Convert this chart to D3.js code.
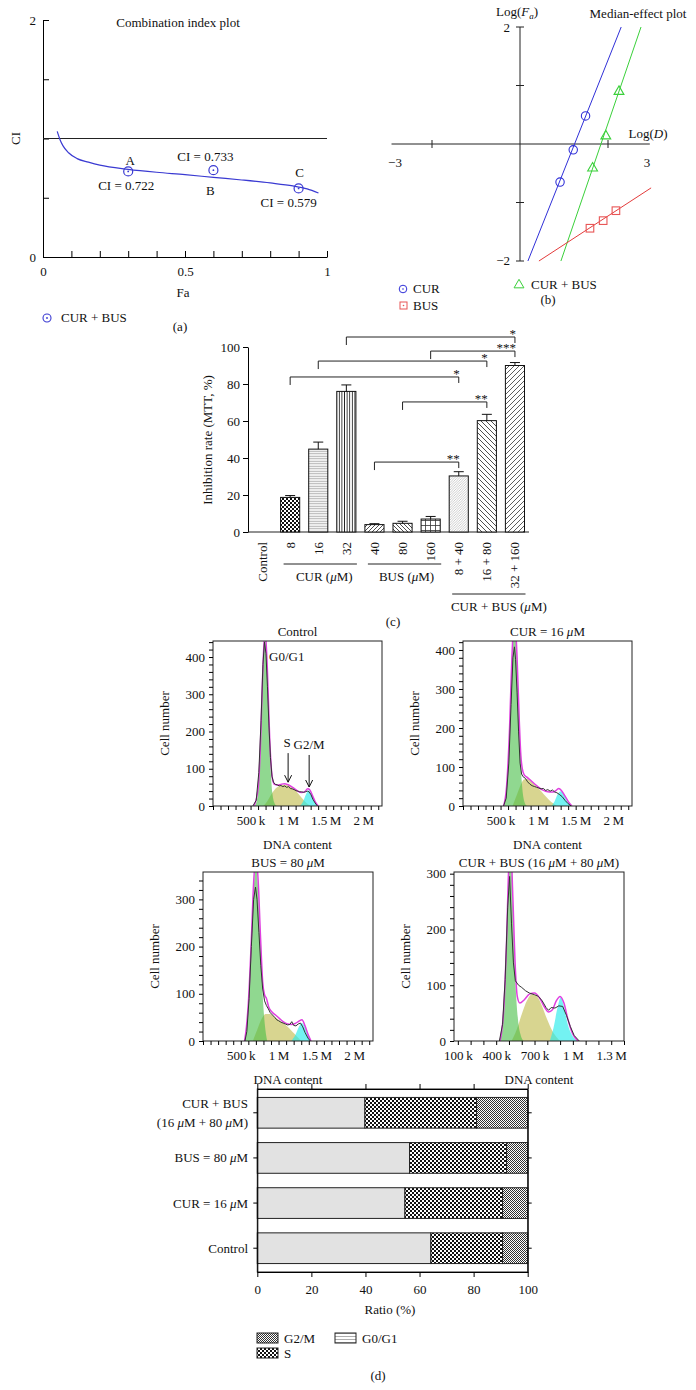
<!DOCTYPE html>
<html><head><meta charset="utf-8">
<script src="https://cdn.jsdelivr.net/npm/d3@7/dist/d3.min.js"></script>
<style>
body{margin:0;background:#fff;}
svg{display:block;}
text{font-family:"Liberation Serif","Times New Roman",serif;fill:#111;}
</style></head><body>
<svg id="fig" width="696" height="1390"></svg>
<script>
// ================= DATA =================
// (a) Combination index plot
const ciCurveFa = [0.05,0.06,0.07,0.09,0.12,0.16,0.2,0.3,0.4,0.5,0.6,0.7,0.8,0.88,0.93,0.97];
const ciCurveCI = [1.06,0.99,0.94,0.88,0.83,0.8,0.775,0.74,0.715,0.695,0.672,0.65,0.625,0.6,0.575,0.54];
const ciPointFa = [0.3, 0.6, 0.9];
const ciPointCI = [0.722, 0.733, 0.579];
const ciPointName = ["A", "B", "C"];
const ciYTicks = [0, 0.5, 1, 1.5, 2];
const ciYLabels = [0, 2];
const ciXTicks = [0,0.1,0.2,0.3,0.4,0.5,0.6,0.7,0.8,0.9,1];
const ciXLabels = [0, 0.5, 1];

// (b) Median-effect plot (log D, log Fa)
const curLogD = [0.91, 1.21, 1.49];
const curLogFa = [-0.65, -0.1, 0.48];
const busLogD = [1.59, 1.89, 2.18];
const busLogFa = [-1.44, -1.31, -1.14];
const comboLogD = [1.65, 1.95, 2.25];
const comboLogFa = [-0.4, 0.15, 0.91];
const curFitLine = [[0.18, -2], [2.3, 2]];
const busFitLine = [[0.43, -2], [2.98, -0.75]];
const comboFitLine = [[0.93, -2], [2.75, 2]];
const medYTicks = [-2, -1, 1, 2];
const medXTicks = [-2, 2];

// (c) MTT inhibition
const mttCategories = ["Control","8","16","32","40","80","160","8 + 40","16 + 80","32 + 160"];
const mttValues = [0, 18.7, 44.8, 76, 4, 4.7, 7, 30.3, 60.2, 90];
const mttErrors = [0, 1, 3.8, 3.5, 0.5, 1.1, 1.4, 2.3, 3.4, 1.6];
const mttYTicks = [0, 20, 40, 60, 80, 100];
const mttGroups = [["CUR (μM)", "8", "32"], ["BUS (μM)", "40", "160"], ["CUR + BUS (μM)", "8 + 40", "32 + 160"]];
// brackets: [from, to, level (%), label]
const mttBrackets = [
  ["32", "32 + 160", 105.4, "*"],
  ["160", "32 + 160", 97.8, "***"],
  ["16", "16 + 80", 92.4, "*"],
  ["8", "8 + 40", 83.8, "*"],
  ["80", "16 + 80", 70.3, "**"],
  ["40", "8 + 40", 37.8, "**"]
];

// (d) Flow cytometry histograms  [DNA content (k), cell number]
const ctrlG1 = [[545,0],[575,8],[600,40],[630,150],[660,340],[693,470],[725,350],[755,160],[790,35],[825,5],[850,0]];
const ctrlS = [[670,0],[720,12],[780,32],[840,48],[900,55],[950,57],[1000,55],[1060,48],[1120,37],[1180,22],[1240,9],[1300,0]];
const ctrlG2 = [[1160,0],[1200,12],[1240,32],[1275,42],[1310,32],[1350,10],[1390,0]];
const ctrlFit = [[545,0],[600,45],[630,155],[660,345],[693,475],[725,360],[755,180],[790,75],[820,58],[860,56],[900,58],[950,60],[1000,57],[1060,50],[1120,41],[1180,36],[1220,38],[1260,46],[1290,43],[1320,30],[1360,12],[1400,0]];
const ctrlRaw = [[530,0],[575,15],[610,90],[640,230],[665,380],[685,440],[705,410],[725,320],[745,215],[765,130],[785,80],[805,64],[830,58],[855,57],[880,54],[905,55],[930,52],[955,54],[980,50],[1005,52],[1030,47],[1055,46],[1080,44],[1105,41],[1130,40],[1155,38],[1180,38],[1205,37],[1230,38],[1255,40],[1280,38],[1305,30],[1330,18],[1360,8],[1390,0]];

const curG1 = [[540,0],[560,8],[580,44],[600,100],[620,192],[650,368],[685,480],[720,368],[750,192],[770,100],[790,44],[820,9],[850,0]];
const curS = [[660,0],[720,30],[770,55],[810,68],[850,70],[900,64],[950,56],[1000,46],[1050,36],[1100,25],[1150,15],[1200,7],[1250,0]];
const curG2 = [[1180,0],[1220,12],[1260,30],[1300,38],[1340,30],[1380,15],[1420,4],[1450,0]];
const curFit = [[540,0],[580,50],[620,200],[650,375],[685,490],[720,380],[750,215],[770,130],[790,95],[815,80],[850,74],[900,66],[950,57],[1000,49],[1050,42],[1100,38],[1150,36],[1200,36],[1240,40],[1275,45],[1310,40],[1350,28],[1400,12],[1450,0]];
const curRaw = [[540,0],[575,20],[610,110],[640,260],[665,380],[685,408],[700,375],[720,290],[740,190],[760,110],[780,82],[800,75],[830,71],[860,62],[890,56],[920,52],[950,50],[980,48],[1010,46],[1040,44],[1070,45],[1100,40],[1130,42],[1160,38],[1190,41],[1220,36],[1250,34],[1280,30],[1320,24],[1360,14],[1400,6],[1440,0]];

const busG1 = [[550,0],[575,25],[600,71],[640,204],[670,319],[700,370],[730,319],[760,204],[800,71],[825,25],[850,0]];
const busS = [[660,0],[720,25],[780,48],[830,57],[880,57],[940,52],[1000,45],[1060,38],[1120,30],[1180,20],[1240,10],[1300,0]];
const busG2 = [[1170,0],[1220,12],[1270,30],[1310,38],[1350,28],[1390,12],[1430,0]];
const busFit = [[550,0],[575,30],[600,80],[640,215],[670,335],[700,390],[730,340],[760,225],[790,125],[815,98],[840,90],[870,72],[910,62],[960,55],[1010,48],[1060,41],[1120,36],[1170,35],[1220,37],[1270,42],[1310,45],[1350,32],[1390,14],[1430,0]];
const busRaw = [[555,0],[580,20],[610,90],[640,200],[670,300],[695,326],[715,300],[740,230],[765,160],[790,110],[815,85],[840,75],[865,68],[890,60],[920,55],[950,50],[975,45],[1000,43],[1030,40],[1060,38],[1090,36],[1120,34],[1150,35],[1175,41],[1200,33],[1230,32],[1260,36],[1290,38],[1320,30],[1350,18],[1390,6],[1420,0]];

const cbG1 = [[425,0],[450,25],[470,100],[490,245],[510,340],[530,250],[550,110],[570,40],[590,12],[615,0]];
const cbS = [[520,0],[560,20],[600,48],[640,72],[680,84],[720,80],[760,62],[800,38],[840,18],[880,5],[900,0]];
const cbG2 = [[820,0],[850,25],[880,60],[905,78],[930,62],[960,30],[1000,8],[1040,0]];
const cbFit = [[430,0],[460,60],[480,170],[500,320],[515,345],[530,260],[550,130],[565,80],[585,68],[620,74],[660,84],[700,86],[740,77],[780,60],[810,52],[840,56],[870,72],[900,80],[930,68],[960,40],[1000,12],[1040,0]];
const cbRaw = [[425,0],[450,30],[470,110],[490,240],[505,295],[520,210],[535,140],[550,108],[575,100],[600,96],[630,90],[660,86],[700,83],[730,80],[760,72],[790,60],[810,55],[830,60],[860,59],[890,63],[920,62],[950,46],[980,26],[1010,10],[1050,0]];

const histTitles = ["Control", "CUR = 16 μM", "BUS = 80 μM", "CUR + BUS (16 μM + 80 μM)"];
const histXTickValsWide = [500, 1000, 1500, 2000];
const histXTickTextWide = ["500\u2009k", "1\u2009M", "1.5\u2009M", "2\u2009M"];
const histXTickValsCombo = [100, 400, 700, 1000, 1300];
const histXTickTextCombo = ["100\u2009k", "400\u2009k", "700\u2009k", "1\u2009M", "1.3\u2009M"];
const histYLabels400 = [0, 100, 200, 300, 400];
const histYLabels300 = [0, 100, 200, 300];
const ctrlArrows = [["S", 1000, 64, 142], ["G2/M", 1280, 51, 137]];

// (d) cell-cycle ratio
const phaseCategories = ["CUR + BUS\n(16 μM + 80 μM)", "BUS = 80 μM", "CUR = 16 μM", "Control"];
const phaseG0G1 = [39.8, 56.3, 54.6, 64.2];
const phaseS = [41.3, 35.9, 36.1, 26.5];
const phaseG2M = [18.9, 7.8, 9.3, 9.3];
const phaseXTicks = [0, 20, 40, 60, 80, 100];

// ================= DRAW =================
const FS = 13;
const svg = d3.select("#fig");
const defs = svg.append("defs");

function rich(t, str) {
  str.split(/(μ)/).forEach(p => {
    if (!p) return;
    const ts = t.append("tspan").text(p);
    if (p === "μ") ts.attr("font-style", "italic");
  });
  return t;
}
function txt(g, x, y, s, anchor = "middle", size = FS) {
  const t = g.append("text").attr("x", x).attr("y", y).attr("text-anchor", anchor).attr("font-size", size);
  return rich(t, s);
}
function pattern(id, w, h, bg, draw) {
  const p = defs.append("pattern").attr("id", id).attr("patternUnits", "userSpaceOnUse").attr("width", w).attr("height", h);
  p.append("rect").attr("width", w).attr("height", h).attr("fill", bg);
  draw(p);
}
pattern("pChecker", 4, 4, "#fff", p => { p.append("rect").attr("width",2).attr("height",2).attr("fill","#111"); p.append("rect").attr("x",2).attr("y",2).attr("width",2).attr("height",2).attr("fill","#111"); });
pattern("pFineChecker", 2, 2, "#fff", p => { p.append("rect").attr("width",1).attr("height",1).attr("fill","#333"); p.append("rect").attr("x",1).attr("y",1).attr("width",1).attr("height",1).attr("fill","#333"); });
pattern("pHLine", 3, 2.5, "#f3f3f3", p => p.append("line").attr("x1",0).attr("x2",3).attr("y1",1.25).attr("y2",1.25).attr("stroke","#888").attr("stroke-width",0.6));
pattern("pHLineD", 3, 2, "#f6f6f6", p => p.append("line").attr("x1",0).attr("x2",3).attr("y1",1).attr("y2",1).attr("stroke","#a8a8a8").attr("stroke-width",0.5));
pattern("pHLineLeg", 3, 3, "#fff", p => p.append("line").attr("x1",0).attr("x2",3).attr("y1",1.5).attr("y2",1.5).attr("stroke","#777").attr("stroke-width",0.6));
pattern("pVLine", 2.6, 3, "#fff", p => p.append("line").attr("y1",0).attr("y2",3).attr("x1",1.3).attr("x2",1.3).attr("stroke","#222").attr("stroke-width",0.9));
function diag(id, s, dir, col, sw) {
  pattern(id, s, s, "#fff", p => {
    const d = dir > 0 ? `M0,${s} L${s},0 M${-s/2},${s/2} L${s/2},${-s/2} M${s/2},${s*1.5} L${s*1.5},${s/2}`
                      : `M0,0 L${s},${s} M${-s/2},${s/2} L${s/2},${s*1.5} M${s/2},${-s/2} L${s*1.5},${s/2}`;
    p.append("path").attr("d", d).attr("stroke", col).attr("stroke-width", sw).attr("fill", "none");
  });
}
diag("pDiagR4", 4, 1, "#222", 0.8);
diag("pDiagL4", 4, -1, "#222", 0.8);
diag("pDiagFine", 2.5, 1, "#999", 0.5);
diag("pDiagL5", 5, -1, "#222", 0.8);
diag("pDiagR5", 5, 1, "#333", 0.8);
pattern("pGrid", 5, 5, "#fff", p => p.append("path").attr("d","M0,0.5 H5 M0.5,0 V5").attr("stroke","#333").attr("stroke-width",0.8));
const mttFills = ["#fff","url(#pChecker)","url(#pHLine)","url(#pVLine)","url(#pDiagR4)","url(#pDiagL4)","url(#pGrid)","url(#pDiagFine)","url(#pDiagL5)","url(#pDiagR5)"];

// ---------- (a) ----------
{
  const blue = "#3a3ad2";
  const xA = d3.scaleLinear([0, 1], [43, 327]);
  const yA = d3.scaleLinear([0, 2], [257, 20]);
  const g = svg.append("g");
  g.append("g").attr("transform", `translate(${xA(0)},0)`).call(d3.axisRight(yA).tickValues(ciYTicks).tickSize(6).tickSizeOuter(0).tickFormat(""));
  g.append("g").attr("transform", `translate(${xA(0)},0)`).attr("font-size", FS).call(d3.axisLeft(yA).tickValues(ciYLabels).tickSize(0).tickPadding(7).tickFormat(d3.format("~g"))).call(s => s.select(".domain").remove());
  g.append("g").attr("transform", `translate(0,${yA(0)})`).call(d3.axisTop(xA).tickValues(ciXTicks).tickSize(6).tickSizeOuter(0).tickFormat(""));
  g.append("g").attr("transform", `translate(0,${yA(0)})`).attr("font-size", FS).call(d3.axisBottom(xA).tickValues(ciXLabels).tickSize(0).tickPadding(10).tickFormat(d3.format("~g"))).call(s => s.select(".domain").remove());
  g.selectAll(".tick text").attr("font-size", FS);
  g.append("line").attr("x1", xA(0)).attr("x2", xA(1)).attr("y1", yA(1)).attr("y2", yA(1)).attr("stroke", "#222");
  const line = d3.line().x(i => xA(ciCurveFa[i])).y(i => yA(ciCurveCI[i])).curve(d3.curveMonotoneX);
  g.append("path").attr("d", line(d3.range(ciCurveFa.length))).attr("fill", "none").attr("stroke", blue).attr("stroke-width", 1.2);
  const pts = g.selectAll(".pt").data(ciPointFa.map((f, i) => ({f, c: ciPointCI[i], n: ciPointName[i]}))).join("g")
    .attr("transform", d => `translate(${xA(d.f)},${yA(d.c)})`);
  pts.append("circle").attr("r", 4.5).attr("fill", "none").attr("stroke", blue).attr("stroke-width", 1.2);
  pts.append("circle").attr("r", 0.9).attr("fill", blue);
  const namePos = [[2, -6], [-3, 25], [1, -11]];
  const ciPos = [[-2, 19], [-8, -9], [-10, 19]];
  pts.each(function(d, i) {
    const s = d3.select(this);
    txt(s, namePos[i][0], namePos[i][1], d.n);
    txt(s, ciPos[i][0], ciPos[i][1], "CI = " + d3.format(".3f")(d.c));
  });
  txt(g, 178, 27, "Combination index plot");
  g.append("text").attr("transform", `translate(20,${yA(1)}) rotate(-90)`).attr("text-anchor", "middle").attr("font-size", FS).text("CI");
  txt(g, 183, 297, "Fa");
  const lg = g.append("g").attr("transform", "translate(47,318)");
  lg.append("circle").attr("r", 4).attr("fill", "none").attr("stroke", blue).attr("stroke-width", 1.1);
  lg.append("circle").attr("r", 0.9).attr("fill", blue);
  txt(lg, 14, 4, "CUR + BUS", "start");
  txt(g, 180, 331, "(a)");
}

// ---------- (b) ----------
{
  const cBlue = "#3030d8", cRed = "#e33b3b", cGreen = "#3ad03a";
  const xB = d3.scaleLinear([-3, 3], [388, 652]);
  const yB = d3.scaleLinear([-2, 2], [261, 27]);
  const g = svg.append("g");
  g.append("line").attr("x1", xB(-2.92)).attr("x2", xB(2.95)).attr("y1", yB(0)).attr("y2", yB(0)).attr("stroke", "#222");
  g.append("line").attr("x1", xB(0)).attr("x2", xB(0)).attr("y1", yB(-2)).attr("y2", yB(2)).attr("stroke", "#222");
  g.selectAll(".yt").data(medYTicks).join("line").attr("x1", xB(0) - 4).attr("x2", xB(0) + 4).attr("y1", d => yB(d)).attr("y2", d => yB(d)).attr("stroke", "#222");
  g.selectAll(".xt").data(medXTicks).join("line").attr("y1", yB(0) - 4).attr("y2", yB(0) + 4).attr("x1", d => xB(d)).attr("x2", d => xB(d)).attr("stroke", "#222");
  txt(g, xB(-3) + 7, yB(0) + 23, "\u22123");
  txt(g, xB(3) - 5, yB(0) + 23, "3");
  txt(g, xB(0) - 10, yB(2) + 5, "2", "end");
  txt(g, xB(0) - 10, yB(-2) + 4, "\u22122", "end");
  const ly = g.append("text").attr("x", xB(0) - 3).attr("y", 16).attr("text-anchor", "middle").attr("font-size", FS);
  ly.append("tspan").text("Log(");
  ly.append("tspan").attr("font-style", "italic").text("F");
  ly.append("tspan").attr("font-style", "italic").attr("font-size", 9).attr("dy", 3).text("a");
  ly.append("tspan").attr("dy", -3).text(")");
  const lx = g.append("text").attr("x", 648).attr("y", 138).attr("text-anchor", "middle").attr("font-size", FS);
  lx.append("tspan").text("Log(");
  lx.append("tspan").attr("font-style", "italic").text("D");
  lx.append("tspan").text(")");
  txt(g, 638, 18, "Median-effect plot");
  const line = d3.line().x(d => xB(d[0])).y(d => yB(d[1]));
  g.append("path").attr("d", line(curFitLine)).attr("stroke", cBlue).attr("fill", "none");
  g.append("path").attr("d", line(comboFitLine)).attr("stroke", cGreen).attr("fill", "none");
  g.append("path").attr("d", line(busFitLine)).attr("stroke", cRed).attr("fill", "none");
  curLogD.forEach((d, i) => g.append("circle").attr("cx", xB(d)).attr("cy", yB(curLogFa[i])).attr("r", 4.2).attr("fill", "none").attr("stroke", cBlue).attr("stroke-width", 1.1));
  busLogD.forEach((d, i) => g.append("rect").attr("x", xB(d) - 3.8).attr("y", yB(busLogFa[i]) - 3.8).attr("width", 7.6).attr("height", 7.6).attr("fill", "none").attr("stroke", "#e85555").attr("stroke-width", 1.1));
  const tri = d3.symbol(d3.symbolTriangle, 42);
  comboLogD.forEach((d, i) => g.append("path").attr("d", tri()).attr("transform", `translate(${xB(d)},${yB(comboLogFa[i]) + 0.8})`).attr("fill", "none").attr("stroke", cGreen).attr("stroke-width", 1.1));
  // legend
  g.append("circle").attr("cx", 403).attr("cy", 289).attr("r", 3.8).attr("fill", "none").attr("stroke", cBlue);
  g.append("circle").attr("cx", 403).attr("cy", 289).attr("r", 0.8).attr("fill", cBlue);
  txt(g, 413, 293, "CUR", "start");
  g.append("rect").attr("x", 400).attr("y", 302).attr("width", 7).attr("height", 7).attr("fill", "none").attr("stroke", "#e85555");
  g.append("circle").attr("cx", 403.5).attr("cy", 305.5).attr("r", 0.8).attr("fill", "#e85555");
  txt(g, 413, 310, "BUS", "start");
  g.append("path").attr("d", tri()).attr("transform", "translate(519,285)").attr("fill", "none").attr("stroke", cGreen);
  txt(g, 531, 289, "CUR + BUS", "start");
  txt(g, 548, 304, "(b)");
}

// ---------- (c) ----------
{
  const xC = d3.scaleBand(mttCategories, [248, 529]).paddingInner(0.32).paddingOuter(0.16);
  const yC = d3.scaleLinear([0, 100], [532, 347]);
  const g = svg.append("g");
  g.append("g").attr("transform", "translate(248,0)").attr("font-size", FS).call(d3.axisLeft(yC).tickValues(mttYTicks).tickSize(5).tickPadding(3).tickSizeOuter(0));
  g.selectAll(".tick text").attr("font-size", FS);
  g.append("line").attr("x1", 248).attr("x2", 529).attr("y1", yC(0)).attr("y2", yC(0)).attr("stroke", "#222");
  const bw = xC.bandwidth();
  mttCategories.forEach((c, i) => {
    if (mttValues[i] > 0) {
      g.append("rect").attr("x", xC(c)).attr("y", yC(mttValues[i])).attr("width", bw).attr("height", yC(0) - yC(mttValues[i]))
        .attr("fill", mttFills[i]).attr("stroke", "#111").attr("stroke-width", 1);
      const cx = xC(c) + bw / 2, ye = yC(mttValues[i] + mttErrors[i]);
      g.append("line").attr("x1", cx).attr("x2", cx).attr("y1", yC(mttValues[i])).attr("y2", ye).attr("stroke", "#111");
      g.append("line").attr("x1", cx - 5).attr("x2", cx + 5).attr("y1", ye).attr("y2", ye).attr("stroke", "#111");
    }
    const cx = xC(c) + bw / 2;
    g.append("text").attr("transform", `translate(${cx + 4.5},542) rotate(-90)`).attr("text-anchor", "end").attr("font-size", FS).text(c);
  });
  const gdx = [4, 2, 10];
  mttGroups.forEach((gr, i) => {
    const x1 = xC(gr[1]) + 3, x2 = xC(gr[2]) + bw + 1;
    const yl = i < 2 ? 564 : 594;
    g.append("line").attr("x1", x1).attr("x2", x2).attr("y1", yl).attr("y2", yl).attr("stroke", "#222");
    txt(g, (x1 + x2) / 2 + gdx[i], yl + 17, gr[0]);
  });
  mttBrackets.forEach(b => {
    const x1 = xC(b[0]) + bw / 2, x2 = xC(b[1]) + bw / 2, y = yC(b[2]);
    g.append("path").attr("d", `M${x1},${y + 8}V${y}H${x2}V${y + 6}`).attr("fill", "none").attr("stroke", "#222");
    g.append("text").attr("x", x2 + 1).attr("y", y + 1).attr("text-anchor", "end").attr("font-size", FS).text(b[3]);
  });
  g.append("text").attr("transform", "translate(212,440) rotate(-90)").attr("text-anchor", "middle").attr("font-size", FS).text("Inhibition rate (MTT, %)");
  txt(g, 393, 626, "(c)");
}

// ---------- (d) histograms ----------
function hist(cfg) {
  const g = svg.append("g");
  const x = d3.scaleLinear(cfg.xDom, [cfg.left, cfg.right]);
  const y = d3.scaleLinear([0, cfg.yMax], [cfg.bottom, cfg.top]);
  const cid = "clip" + cfg.id;
  defs.append("clipPath").attr("id", cid).append("rect").attr("x", cfg.left).attr("y", cfg.top).attr("width", cfg.right - cfg.left).attr("height", cfg.bottom - cfg.top);
  const area = d3.area().x(d => x(d[0])).y0(y(0)).y1(d => y(d[1])).curve(d3.curveMonotoneX);
  const smooth = d3.line().x(d => x(d[0])).y(d => y(d[1])).curve(d3.curveMonotoneX);
  const lin = d3.line().x(d => x(d[0])).y(d => y(d[1]));
  const pg = g.append("g").attr("clip-path", `url(#${cid})`);
  pg.append("path").attr("d", area(cfg.s)).attr("fill", "rgba(190,185,70,0.6)");
  pg.append("path").attr("d", area(cfg.g1)).attr("fill", "rgba(70,190,70,0.6)");
  pg.append("path").attr("d", area(cfg.g2)).attr("fill", "rgba(40,235,235,0.65)");
  pg.append("path").attr("d", smooth(cfg.fit)).attr("fill", "none").attr("stroke", "#e040e0").attr("stroke-width", 1.5);
  pg.append("path").attr("d", lin(cfg.raw)).attr("fill", "none").attr("stroke", "#333").attr("stroke-width", 1);
  g.append("rect").attr("x", cfg.left).attr("y", cfg.top).attr("width", cfg.right - cfg.left).attr("height", cfg.bottom - cfg.top).attr("fill", "none").attr("stroke", "#222");
  const yMinor = d3.range(0, cfg.yMax + 0.1, 20);
  g.append("g").attr("transform", `translate(${cfg.left},0)`).call(d3.axisLeft(y).tickValues(yMinor).tickSize(4).tickFormat("")).call(s => s.select(".domain").remove());
  g.append("g").attr("transform", `translate(${cfg.left},0)`).attr("font-size", FS).call(d3.axisLeft(y).tickValues(cfg.yLabels).tickSize(0).tickPadding(8)).call(s => s.select(".domain").remove());
  const xMinor = d3.range(Math.ceil(cfg.xDom[0] / 100) * 100, cfg.xDom[1] + 0.1, 100);
  g.append("g").attr("transform", `translate(0,${cfg.bottom})`).call(d3.axisBottom(x).tickValues(xMinor).tickSize(4).tickFormat("")).call(s => s.select(".domain").remove());
  g.append("g").attr("transform", `translate(0,${cfg.bottom})`).attr("font-size", FS)
    .call(d3.axisBottom(x).tickValues(cfg.xTicks).tickSize(0).tickPadding(10).tickFormat((d, i) => cfg.xText[i])).call(s => s.select(".domain").remove());
  g.selectAll(".tick text").attr("font-size", FS);
  const cx = (cfg.left + cfg.right) / 2;
  txt(g, cx, cfg.top - 5, cfg.title);
  txt(g, cx, cfg.bottom + 43, "DNA content");
  g.append("text").attr("transform", `translate(${cfg.left - 44},${(cfg.top + cfg.bottom) / 2}) rotate(-90)`).attr("text-anchor", "middle").attr("font-size", FS).text("Cell number");
  return {g, x, y};
}
const h1 = hist({id: 1, left: 213, right: 382, top: 641, bottom: 806, xDom: [0, 2250], yMax: 443, xTicks: histXTickValsWide, xText: histXTickTextWide, yLabels: histYLabels400, title: histTitles[0], g1: ctrlG1, s: ctrlS, g2: ctrlG2, fit: ctrlFit, raw: ctrlRaw});
hist({id: 2, left: 463, right: 632, top: 641, bottom: 806, xDom: [0, 2250], yMax: 423, xTicks: histXTickValsWide, xText: histXTickTextWide, yLabels: histYLabels400, title: histTitles[1], g1: curG1, s: curS, g2: curG2, fit: curFit, raw: curRaw});
hist({id: 3, left: 203, right: 373, top: 872, bottom: 1041, xDom: [0, 2250], yMax: 358, xTicks: histXTickValsWide, xText: histXTickTextWide, yLabels: histYLabels300, title: histTitles[2], g1: busG1, s: busS, g2: busG2, fit: busFit, raw: busRaw});
hist({id: 4, left: 454, right: 624, top: 872, bottom: 1041, xDom: [70, 1400], yMax: 303, xTicks: histXTickValsCombo, xText: histXTickTextCombo, yLabels: histYLabels300, title: histTitles[3], g1: cbG1, s: cbS, g2: cbG2, fit: cbFit, raw: cbRaw});
txt(h1.g, 269, 661, "G0/G1", "start");
ctrlArrows.forEach(a => {
  const ax = h1.x(a[1]), tip = h1.y(a[2]), tail = h1.y(a[3]);
  h1.g.append("path").attr("d", `M${ax},${tail}V${tip}M${ax - 3.5},${tip - 7}L${ax},${tip}L${ax + 3.5},${tip - 7}`).attr("fill", "none").attr("stroke", "#111");
  txt(h1.g, ax + (a[0] === "S" ? -1 : 0), tail - 6, a[0]);
});

// ---------- (d) ratio bars ----------
{
  const xD = d3.scaleLinear([0, 100], [257.3, 527.7]);
  const yD = d3.scaleBand(phaseCategories, [1089, 1272]).paddingInner(0.32).paddingOuter(0.187);
  const g = svg.append("g");
  const bh = yD.bandwidth();
  phaseCategories.forEach((c, i) => {
    const segs = [[0, phaseG0G1[i], "url(#pHLineD)"], [phaseG0G1[i], phaseG0G1[i] + phaseS[i], "url(#pChecker)"], [phaseG0G1[i] + phaseS[i], phaseG0G1[i] + phaseS[i] + phaseG2M[i], "url(#pFineChecker)"]];
    segs.forEach(s => g.append("rect").attr("x", xD(s[0])).attr("y", yD(c)).attr("width", xD(s[1]) - xD(s[0])).attr("height", bh).attr("fill", s[2]).attr("stroke", "#222").attr("stroke-width", 1));
    const lines = c.split("\n");
    const cy = yD(c) + bh / 2;
    lines.forEach((l, k) => txt(g, 248, cy + 4.5 + (k - (lines.length - 1) / 2) * 18.5, l, "end"));
  });
  g.append("rect").attr("x", xD(0)).attr("y", 1089).attr("width", xD(100) - xD(0)).attr("height", 1272 - 1089).attr("fill", "none").attr("stroke", "#222");
  g.append("g").attr("transform", "translate(0,1272)").attr("font-size", FS).call(d3.axisBottom(xD).tickValues(phaseXTicks).tickSize(5).tickPadding(8).tickSizeOuter(0));
  g.append("g").attr("transform", "translate(0,1089)").call(d3.axisTop(xD).tickValues(phaseXTicks).tickSize(5).tickSizeOuter(0).tickFormat(""));
  g.append("g").attr("transform", `translate(${xD(0)},0)`).call(d3.axisLeft(yD).tickSize(4).tickSizeOuter(0).tickFormat(""));
  g.append("g").attr("transform", `translate(${xD(100)},0)`).call(d3.axisRight(yD).tickSize(4).tickSizeOuter(0).tickFormat(""));
  g.selectAll(".tick text").attr("font-size", FS);
  txt(g, 390, 1314, "Ratio (%)");
  const leg = [["url(#pFineChecker)", "G2/M", 257, 1333], ["url(#pHLineLeg)", "G0/G1", 335, 1333], ["url(#pChecker)", "S", 257, 1348]];
  leg.forEach(l => {
    g.append("rect").attr("x", l[2]).attr("y", l[3]).attr("width", 21).attr("height", 10).attr("fill", l[0]).attr("stroke", "#222");
    txt(g, l[2] + 27, l[3] + 9.5, l[1], "start");
  });
  txt(g, 378, 1380, "(d)");
}
</script></body></html>
